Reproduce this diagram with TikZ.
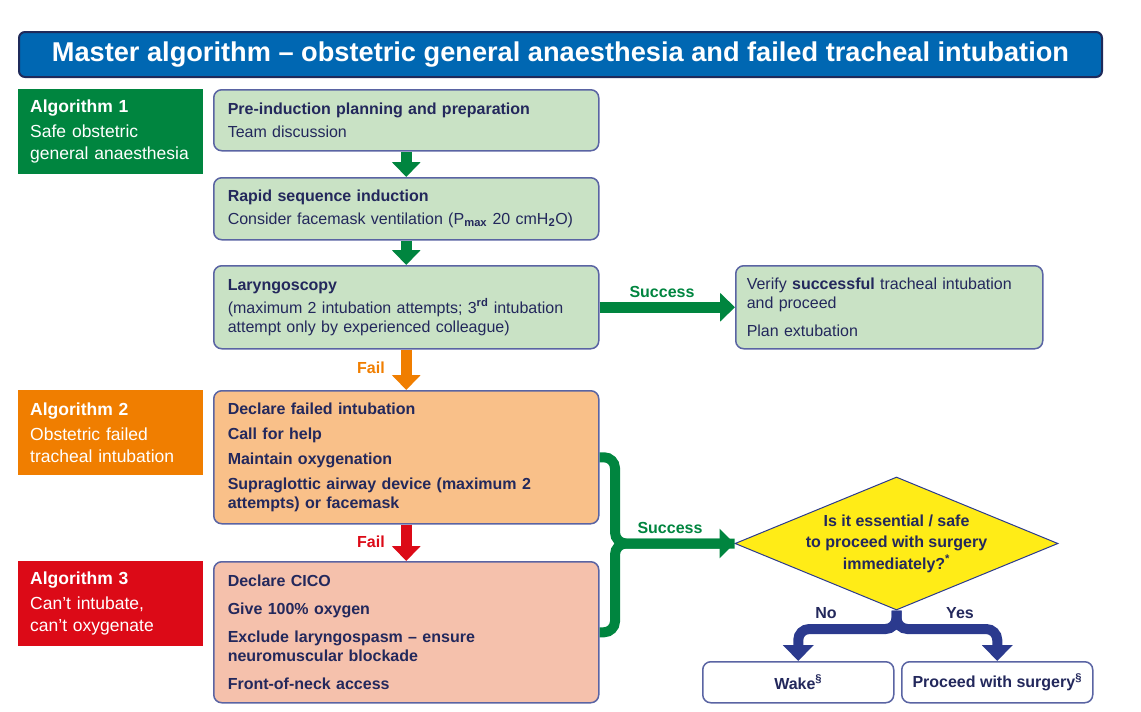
\documentclass[tikz,border=0pt]{standalone}
\usepackage{fontspec}
\setmainfont{Liberation Sans}
\usetikzlibrary{arrows.meta,shapes.geometric}
\definecolor{navy}{HTML}{23285C}
\definecolor{bordr}{HTML}{5A64A3}
\definecolor{titleblue}{HTML}{0067B2}
\definecolor{titleedge}{HTML}{1F2A5A}
\definecolor{agreen}{HTML}{00853F}
\definecolor{aorange}{HTML}{F07E00}
\definecolor{ared}{HTML}{DC0A17}
\definecolor{lgreen}{HTML}{C9E2C5}
\definecolor{lorange}{HTML}{F9C089}
\definecolor{lsalmon}{HTML}{F5C1AC}
\definecolor{dyellow}{HTML}{FFEC17}
\definecolor{darrow}{HTML}{2B3A8E}
\tikzset{
  stepbox/.style={draw=bordr, line width=1.5pt, rounded corners=8pt, anchor=north west,
    text width=357pt, inner xsep=14pt, align=left, text=navy,
    font=\fontsize{16}{19}\selectfont},
  algbox/.style={anchor=north west, minimum height=85pt, text width=161pt, inner xsep=12pt,
    align=left, text=white, font=\fontsize{17.5}{22}\selectfont},
  endbox/.style={draw=bordr, line width=1.5pt, rounded corners=8pt, anchor=north west,
    fill=white, minimum width=191pt, minimum height=41pt, text=navy,
    font=\bfseries\fontsize{16}{18}\selectfont},
  garrow/.style={draw=agreen, line width=11pt, -{Triangle[width=28pt, length=15pt]}},
  oarrow/.style={draw=aorange, line width=11pt, -{Triangle[width=28pt, length=15pt]}},
  rarrow/.style={draw=ared, line width=11pt, -{Triangle[width=28pt, length=15pt]}},
  gline/.style={draw=agreen, line width=10pt, rounded corners=11pt},
  barrow/.style={draw=darrow, line width=10pt, rounded corners=11pt, -{Triangle[width=30pt, length=16pt]}},
  lbl/.style={font=\bfseries\fontsize{16}{19}\selectfont},
}
\begin{document}
\begin{tikzpicture}[x=1pt,y=-1pt]
\useasboundingbox (0,0) rectangle (1141,712);
% title
\node[anchor=north west, minimum width=1083pt, minimum height=45pt, fill=titleblue,
  draw=titleedge, line width=2pt, rounded corners=6pt, text=white,
  font=\bfseries\fontsize{27.2}{30}\selectfont] (title) at (18,31)
  {Master algorithm – obstetric general anaesthesia and failed tracheal intubation};
% algorithm labels
\node[algbox, fill=agreen] (alg1) at (18,89)
  {\textbf{Algorithm 1}\\[3pt]Safe obstetric\\general anaesthesia};
\node[algbox, fill=aorange] (alg2) at (18,390)
  {\textbf{Algorithm 2}\\[3pt]Obstetric failed\\tracheal intubation};
\node[algbox, fill=ared] (alg3) at (18,561)
  {\textbf{Algorithm 3}\\[3pt]Can’t intubate,\\can’t oxygenate};
% main boxes
\node[stepbox, fill=lgreen, minimum height=61pt] (b1) at (213,89)
  {\textbf{Pre-induction planning and preparation}\\[4pt]Team discussion};
\node[stepbox, fill=lgreen, minimum height=62pt] (b2) at (213,177)
  {\textbf{Rapid sequence induction}\\[4pt]Consider facemask ventilation (P\textsubscript{\textbf{max}} 20 cmH\textsubscript{\textbf{2}}O)};
\node[stepbox, fill=lgreen, minimum height=83pt] (b3) at (213,265)
  {\textbf{Laryngoscopy}\\[4pt](maximum 2 intubation attempts; 3\textsuperscript{\textbf{rd}} intubation\\attempt only by experienced colleague)};
\node[stepbox, fill=lgreen, minimum height=83pt, text width=285pt, inner xsep=11pt] (ver) at (735,265)
  {Verify \textbf{successful} tracheal intubation\\and proceed\\[9pt]Plan extubation};
\node[stepbox, fill=lorange, minimum height=133pt, font=\bfseries\fontsize{16}{19}\selectfont] (b4) at (213,390)
  {Declare failed intubation\\[6pt]Call for help\\[6pt]Maintain oxygenation\\[6pt]Supraglottic airway device (maximum 2\\attempts) or facemask};
\node[stepbox, fill=lsalmon, minimum height=141pt, font=\bfseries\fontsize{16}{19}\selectfont] (b5) at (213,561)
  {Declare CICO\\[9pt]Give 100\% oxygen\\[9pt]Exclude laryngospasm – ensure\\neuromuscular blockade\\[9pt]Front-of-neck access};
% decision
\node[diamond, draw=darrow, line width=1pt, fill=dyellow, minimum width=323pt, minimum height=133pt, inner sep=0pt] (dia) at (896.5,543.5) {};
\node[align=center, text=navy, font=\bfseries\fontsize{16}{21.5}\selectfont] (diatext) at (dia.center)
  {Is it essential / safe\\to proceed with surgery\\immediately?\textsuperscript{*}};
\node[endbox] (wake) at (702,661) {Wake\textsuperscript{§}};
\node[endbox] (proc) at (901,661) {Proceed with surgery\textsuperscript{§}};
% arrows
\draw[garrow] (b1.south) -- (b2.north);
\draw[garrow] (b2.south) -- (b3.north);
\draw[garrow] (b3.east) -- (ver.west);
\draw[oarrow] (b3.south) -- (b4.north);
\draw[rarrow] (b4.south) -- (b5.north);
\coordinate (brk) at (615,543.5);
\draw[gline] (b4.east) -| (brk) -- (dia.west);
\draw[gline, -{Triangle[width=29pt, length=15pt]}] (b5.east) -| (brk) -- (dia.west);
\coordinate (fork) at (896.5,629);
\draw[barrow] (dia.south) -- (fork) -| (wake.north);
\draw[barrow] (dia.south) -- (fork) -| (proc.north);
% labels
\node[lbl, text=agreen] (s1) at (662,292) {Success};
\node[lbl, text=agreen] (s2) at (670,528) {Success};
\node[lbl, text=aorange] (f1) at (371,368) {Fail};
\node[lbl, text=ared] (f2) at (371,542) {Fail};
\node[lbl, text=navy] (no) at (826,613) {No};
\node[lbl, text=navy] (yes) at (960,613) {Yes};
\end{tikzpicture}
\end{document}
